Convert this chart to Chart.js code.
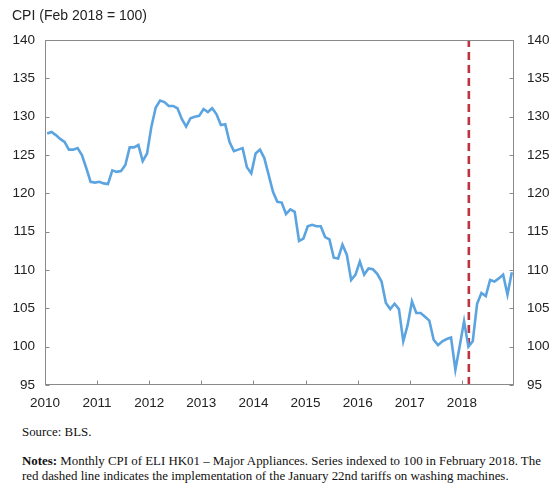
<!DOCTYPE html>
<html>
<head>
<meta charset="utf-8">
<script src="https://cdn.jsdelivr.net/npm/chart.js@4.4.1/dist/chart.umd.min.js"></script>
<style>
  body { margin: 0; background: #fff; }
  #wrap { position: relative; width: 560px; height: 491px; }
  #cpiChart { position: absolute; left: 0; top: 0; }
  .note { position: absolute; left: 22px; font-family: "Liberation Serif", "Times New Roman", serif; font-size: 12.9px; line-height: 15px; color: #111; white-space: nowrap; }
</style>
</head>
<body>
<div id="wrap">
  <canvas id="cpiChart" width="560" height="420"></canvas>
  <div class="note" style="top:425px;">Source: BLS.</div>
  <div class="note" style="top:454px;"><b>Notes:</b> Monthly CPI of ELI HK01 – Major Appliances. Series indexed to 100 in February 2018. The<br>red dashed line indicates the implementation of the January 22nd tariffs on washing machines.</div>
</div>
<script>
// monthly CPI, Jan 2010 .. Dec 2018 (Feb 2018 = 100)
const cpi2010 = [127.8, 128.0, 127.6, 127.1, 126.7, 125.7, 125.7, 125.9, 125.0, 123.3, 121.5, 121.4];
const cpi2011 = [121.5, 121.3, 121.2, 123.0, 122.8, 122.9, 123.7, 126.0, 126.0, 126.3, 124.2, 125.2];
const cpi2012 = [128.7, 131.2, 132.1, 131.9, 131.4, 131.4, 131.1, 129.7, 128.7, 129.8, 130.0, 130.1];
const cpi2013 = [131.0, 130.6, 131.1, 130.3, 128.9, 129.0, 126.7, 125.5, 125.7, 125.9, 123.4, 122.6];
const cpi2014 = [125.2, 125.7, 124.6, 122.4, 120.2, 118.9, 118.8, 117.3, 117.9, 117.6, 113.8, 114.1];
const cpi2015 = [115.7, 115.9, 115.7, 115.7, 114.3, 114.0, 111.6, 111.5, 113.3, 112.0, 108.7, 109.4];
const cpi2016 = [111.1, 109.4, 110.2, 110.1, 109.5, 108.5, 105.7, 104.9, 105.6, 104.9, 100.7, 102.8];
const cpi2017 = [105.9, 104.4, 104.4, 103.9, 103.4, 100.9, 100.2, 100.7, 101.0, 101.2, 97.0, 100.1];
const cpi2018 = [103.3, 100.0, 100.7, 105.6, 107.0, 106.6, 108.7, 108.5, 108.9, 109.4, 106.8, 109.7];

const yearLabels = ['2010', '2011', '2012', '2013', '2014', '2015', '2016', '2017', '2018'];
const yTicks = [95, 100, 105, 110, 115, 120, 125, 130, 135, 140];
const tariffMonth = 97.6; // months since Jan 2010, the red dashed line
const titleText = 'CPI (Feb 2018 = 100)';

const cpiValues = [].concat(cpi2010, cpi2011, cpi2012, cpi2013, cpi2014, cpi2015, cpi2016, cpi2017, cpi2018);
const monthOffset = 0.5;

const sansFamily = '"Liberation Sans", Arial, sans-serif';
const tickFont = { family: sansFamily, size: 13.5 };

// grey box round the plot, inward tick marks and the unit title
const framePlugin = {
    id: 'frame',
    afterDraw(chart) {
        const { ctx, chartArea: a, scales } = chart;
        const L = Math.round(a.left) + 0.5, R = Math.round(a.right) - 0.5;
        const T = Math.round(a.top) + 0.5, B = Math.round(a.bottom) - 0.5;
        ctx.save();
        ctx.strokeStyle = '#8a8a8a';
        ctx.lineWidth = 1;
        ctx.strokeRect(L, T, R - L, B - T);
        ctx.beginPath();
        scales.x.ticks.forEach(t => {
            const px = Math.round(scales.x.getPixelForValue(t.value)) + 0.5;
            ctx.moveTo(px, B); ctx.lineTo(px, B - 4);
        });
        scales.y.ticks.forEach(t => {
            const py = Math.round(scales.y.getPixelForValue(t.value)) + 0.5;
            ctx.moveTo(L, py); ctx.lineTo(L + 4, py);
            ctx.moveTo(R, py); ctx.lineTo(R - 4, py);
        });
        ctx.stroke();
        ctx.fillStyle = '#222';
        ctx.font = '14px ' + sansFamily;
        ctx.textBaseline = 'middle';
        ctx.fillText(titleText, 12, 16);
        ctx.restore();
    }
};

function setTicks(values) {
    return scale => { scale.ticks = values.map(v => ({ value: v })); };
}

const hiddenGrid = { display: false, drawTicks: false };

new Chart(document.getElementById('cpiChart'), {
    type: 'line',
    data: {
        datasets: [
            {
                data: cpiValues.map((v, i) => ({ x: i + monthOffset, y: v })),
                borderColor: '#5ba4e0', borderWidth: 2.6, pointRadius: 0, tension: 0, yAxisID: 'y'
            },
            {
                data: [{ x: tariffMonth, y: yTicks[0] }, { x: tariffMonth, y: yTicks[yTicks.length - 1] }],
                borderColor: '#bf3340', borderWidth: 2.6, borderDash: [8, 5], pointRadius: 0, yAxisID: 'y'
            }
        ]
    },
    options: {
        responsive: false,
        animation: false,
        layout: { padding: { left: 0, top: 40, right: 0, bottom: 0 } },
        plugins: {
            legend: { display: false },
            tooltip: { enabled: false }
        },
        scales: {
            x: {
                type: 'linear', min: 0, max: 108,
                afterBuildTicks: setTicks(yearLabels.map((_, i) => i * 12)),
                afterFit: s => { s.height = 35; },
                grid: hiddenGrid, border: { display: false },
                ticks: { font: tickFont, color: '#222', padding: 10, maxRotation: 0, autoSkip: false,
                         callback: (v, i) => yearLabels[i] }
            },
            y: {
                type: 'linear', position: 'left', min: 95, max: 140,
                afterBuildTicks: setTicks(yTicks),
                afterFit: s => { s.width = 45; },
                grid: hiddenGrid, border: { display: false },
                ticks: { font: tickFont, color: '#222', padding: 10 }
            },
            y2: {
                type: 'linear', position: 'right', min: 95, max: 140,
                afterBuildTicks: setTicks(yTicks),
                afterFit: s => { s.width = 46; },
                grid: hiddenGrid, border: { display: false },
                ticks: { font: tickFont, color: '#222', padding: 13 }
            }
        }
    },
    plugins: [framePlugin]
});
</script>
</body>
</html>
